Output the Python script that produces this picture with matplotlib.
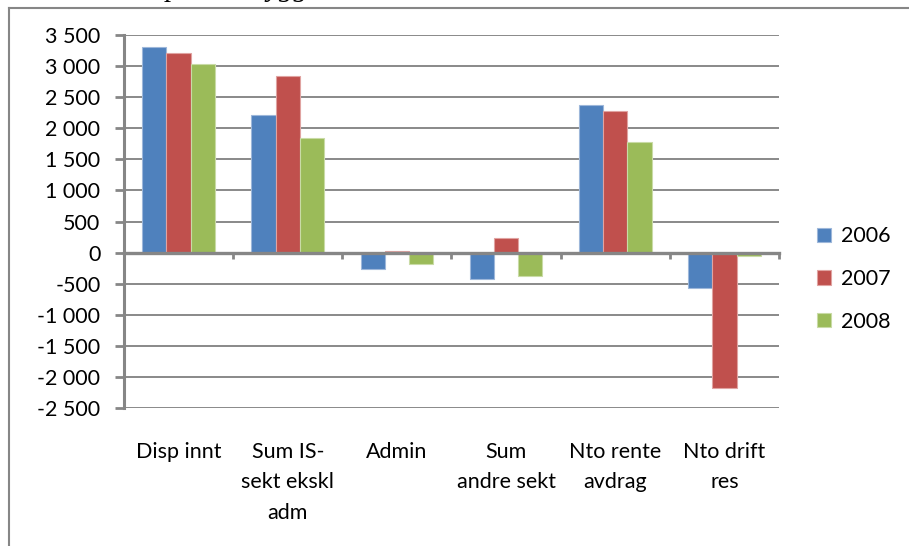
import matplotlib
matplotlib.use("Agg")
import matplotlib.pyplot as plt
import numpy as np
from matplotlib.ticker import FuncFormatter, FixedLocator
from matplotlib.lines import Line2D

categories = ["Disp innt", "Sum IS-\nsekt ekskl\nadm", "Admin", "Sum\nandre sekt",
              "Nto rente\navdrag", "Nto drift\nres"]
series_names = ["2006", "2007", "2008"]
v2006 = [3300, 2210, -270, -420, 2380, -570]
v2007 = [3210, 2840, 20, 240, 2270, -2180]
v2008 = [3030, 1840, -180, -370, 1780, -50]
y_ticks = [3500, 3000, 2500, 2000, 1500, 1000, 500, 0, -500, -1000, -1500, -2000, -2500]

colors = ["#4F81BD", "#C0504D", "#9BBB59"]
edges = ["#9DB7DA", "#E0A3A1", "#C9DBA6"]

plt.rcParams['font.family'] = ['Lato', 'DejaVu Sans']
FS = 15.5

W, H = 909, 546
fig = plt.figure(figsize=(W / 100, H / 100), dpi=100)
ax = fig.add_axes([124 / W, 1 - 408 / H, (779 - 124) / W, (408 - 35) / H])

x = np.arange(len(categories))
group = 2 / 3
bw = group / 3
for i, (vals, name) in enumerate(zip([v2006, v2007, v2008], series_names)):
    ax.bar(x - group / 2 + bw * (i + 0.5), vals, width=bw, color=colors[i],
           edgecolor=edges[i], linewidth=0.8, label=name, zorder=3)

ax.set_xlim(-0.5, len(categories) - 0.5)
ax.set_ylim(min(y_ticks), max(y_ticks))
ax.yaxis.set_major_locator(FixedLocator(y_ticks))
ax.yaxis.set_major_formatter(FuncFormatter(lambda v, p: f"{int(v):,}".replace(",", " ")))
ax.grid(axis='y', color='#808080', linewidth=1.3, zorder=1)
ax.set_axisbelow(True)

for s in ['top', 'right']:
    ax.spines[s].set_visible(False)
ax.spines['left'].set_color('#868686')
ax.spines['left'].set_linewidth(2.2)
ax.spines['bottom'].set_position(('data', 0))
ax.spines['bottom'].set_color('#868686')
ax.spines['bottom'].set_linewidth(2.4)
ax.spines['bottom'].set_zorder(4)

ax.set_xticks(np.arange(-0.5, len(categories), 1.0))
ax.set_xticklabels([])
ax.tick_params(axis='x', direction='out', length=4.5, width=2, color='#868686')
ax.tick_params(axis='y', direction='out', length=6.5, width=2, color='#868686',
               pad=10.5, labelsize=FS, labelcolor='black')

for xi, lab in zip(x, categories):
    ax.text(xi, -0.09, lab, transform=ax.get_xaxis_transform(), ha='center', va='top',
            fontsize=FS, linespacing=1.68, multialignment='center')

leg = ax.legend(loc='center left', bbox_to_anchor=(817 / W, 1 - 279 / H),
                bbox_transform=fig.transFigure, frameon=False, fontsize=FS,
                handlelength=0.65, handleheight=0.65, handletextpad=0.45,
                labelspacing=1.05, borderpad=0, borderaxespad=0)

# outer chart frame (partially visible)
fig.add_artist(Line2D([8.5 / W, 8.5 / W], [0, 1 - 7.5 / H], transform=fig.transFigure,
                      color='#868686', linewidth=1.5))
fig.add_artist(Line2D([8.5 / W, 1], [1 - 7.5 / H, 1 - 7.5 / H], transform=fig.transFigure,
                      color='#868686', linewidth=1.5))

# cut-off caption above the frame (only its descenders show in the reference)
fig.text(166 / W, 1 + 4 / H, "p", fontsize=21, style='italic',
         family=['Liberation Serif'], va='baseline', ha='left')
fig.text(266 / W, 1 + 4 / H, "ygg", fontsize=21, style='italic',
         family=['Liberation Serif'], va='baseline', ha='left')

fig.savefig("out.png", dpi=100)
